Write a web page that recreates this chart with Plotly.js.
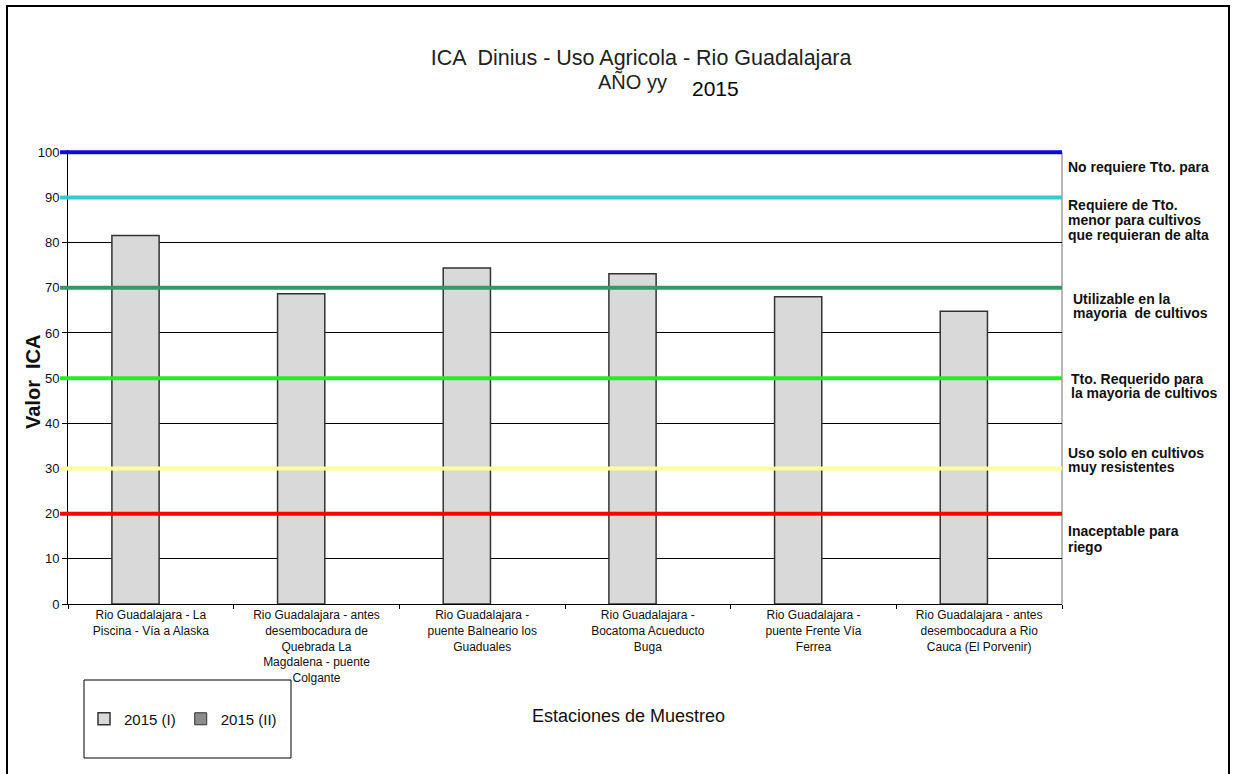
<!DOCTYPE html>
<html>
<head>
<meta charset="utf-8">
<script src="https://cdn.plot.ly/plotly-3.0.1.min.js"></script>
<style>
  html, body { margin: 0; padding: 0; background: #fff; }
  #chart { width: 1233px; height: 774px; }
  #frame { position: absolute; left: 6px; top: 5px; width: 1220px; height: 800px; border: 2px solid #000; pointer-events: none; }
</style>
</head>
<body>
<div id="chart"></div>
<div id="frame"></div>
<script>
// ---- data ----
const stations = [
  "Rio Guadalajara - La<br>Piscina - Vía a Alaska",
  "Rio Guadalajara - antes<br>desembocadura de<br>Quebrada La<br>Magdalena - puente<br>Colgante",
  "Rio Guadalajara -<br>puente Balneario los<br>Guaduales",
  "Rio Guadalajara -<br>Bocatoma Acueducto<br>Buga",
  "Rio Guadalajara -<br>puente Frente Vía<br>Ferrea",
  "Rio Guadalajara - antes<br>desembocadura a Rio<br>Cauca (El Porvenir)"
];
const icaI  = [81.6, 68.7, 74.4, 73.1, 68.0, 64.8];
const icaII = [null, null, null, null, null, null];
const seriesNames = ["2015 (I)", "2015 (II)"];

const thresholdValues = [100, 90, 70, 50, 30, 20];
const thresholdColors = ["#0a0ad6", "#33cccc", "#339966", "#22ee22", "#ffff99", "#ff0000"];

const bandLabels = [
  ["No requiere Tto. para"],
  ["Requiere de Tto.", "menor para cultivos", "que requieran de alta"],
  ["Utilizable en la", "mayoria  de cultivos"],
  ["Tto. Requerido para", "la mayoria de cultivos"],
  ["Uso solo en cultivos", "muy resistentes"],
  ["Inaceptable para", "riego"]
];

// ---- layout helpers (pixel positions of label lines) ----
const M = {l: 68, r: 171, t: 150, b: 170};
const PW = 1233 - M.l - M.r, PH = 774 - M.t - M.b;
const px2x = px => (px - M.l) / PW;
const py2y = py => (M.t + PH - py) / PH;

const bandLineY = [[167], [205, 220, 235], [299, 313], [379, 393], [453, 467], [531, 547]];
const bandLineX = [1066, 1066, 1071, 1069, 1066, 1066];

const FONT = "Arial, 'Liberation Sans', sans-serif";

const traces = [
  {
    type: "bar", name: seriesNames[0], x: stations, y: icaI,
    width: 0.285, offset: -0.235,
    marker: {color: "#d9d9d9", line: {color: "#333333", width: 1.5}},
    hoverinfo: "x+y"
  },
  {
    type: "bar", name: seriesNames[1], x: stations, y: icaII,
    width: 0.285, offset: 0.05,
    marker: {color: "#8c8c8c", line: {color: "#333333", width: 1}},
    showlegend: true
  }
];

const shapes = thresholdValues.map((v, i) => ({
  type: "line", xref: "paper", yref: "y", x0: -0.008, x1: 1, y0: v, y1: v,
  line: {color: thresholdColors[i], width: 4}, layer: "above"
}));
shapes.push({type: "line", xref: "paper", yref: "y", x0: 1, x1: 1, y0: 0, y1: 100,
  line: {color: "#a0a0a0", width: 1.5}, layer: "below"});
shapes.push({type: "rect", xref: "paper", yref: "paper",
  x0: px2x(84), x1: px2x(291), y0: py2y(680), y1: py2y(758),
  line: {color: "#000", width: 1}, fillcolor: "rgba(0,0,0,0)"});

const annotations = [];
bandLabels.forEach((lines, i) => {
  lines.forEach((t, j) => {
    annotations.push({
      xref: "paper", yref: "paper", x: px2x(bandLineX[i]), y: py2y(bandLineY[i][j]),
      xanchor: "left", yanchor: "middle", showarrow: false, text: "<b>" + t.replace(/  /g, " &nbsp;") + "</b>",
      font: {family: FONT, size: 14, color: "#111"}
    });
  });
});
annotations.push({
  xref: "paper", yref: "paper", x: px2x(596), y: py2y(82), xanchor: "left", yanchor: "middle",
  showarrow: false, text: "AÑO yy", font: {family: FONT, size: 20, color: "#222"}
});
annotations.push({
  xref: "paper", yref: "paper", x: px2x(690), y: py2y(89), xanchor: "left", yanchor: "middle",
  showarrow: false, text: "2015", font: {family: FONT, size: 21, color: "#000"}
});
annotations.push({
  xref: "paper", yref: "paper", x: px2x(628), y: py2y(716), xanchor: "center", yanchor: "middle",
  showarrow: false, text: "Estaciones de Muestreo", font: {family: FONT, size: 18, color: "#111"}
});
annotations.push({
  xref: "paper", yref: "paper", x: px2x(33), y: py2y(382), xanchor: "center", yanchor: "middle",
  textangle: -90, showarrow: false, text: "<b>Valor &nbsp;ICA</b>", font: {family: FONT, size: 20, color: "#111"}
});

const layout = {
  width: 1233, height: 774,
  margin: M,
  paper_bgcolor: "#fff", plot_bgcolor: "#fff",
  font: {family: FONT, color: "#111"},
  title: {
    text: "ICA &nbsp;Dinius - Uso Agricola - Rio Guadalajara",
    xref: "container", x: 0.52, xanchor: "center",
    yref: "container", y: 1 - 57 / 774, yanchor: "middle",
    font: {family: FONT, size: 21.5, color: "#222"}
  },
  barmode: "group",
  xaxis: {
    type: "category", showline: true, linecolor: "#000", linewidth: 1,
    ticks: "outside", tickson: "boundaries", ticklen: 4, tickcolor: "#000",
    showgrid: false, tickangle: 0, tickfont: {family: FONT, size: 12, color: "#111"},
    automargin: false
  },
  yaxis: {
    range: [0, 100.5], tickvals: [0, 10, 20, 30, 40, 50, 60, 70, 80, 90, 100],
    showline: true, linecolor: "#000", linewidth: 1,
    ticks: "outside", ticklen: 5, tickcolor: "#000",
    showgrid: true, gridcolor: "#000", gridwidth: 1, zeroline: false,
    tickfont: {family: FONT, size: 13, color: "#111"}, automargin: false
  },
  legend: {
    orientation: "h", xref: "paper", yref: "paper",
    x: px2x(84), y: py2y(719), xanchor: "left", yanchor: "middle",
    font: {family: FONT, size: 15, color: "#111"},
    bgcolor: "rgba(0,0,0,0)", borderwidth: 0, itemwidth: 30
  },
  shapes: shapes,
  annotations: annotations,
  showlegend: true
};

Plotly.newPlot("chart", traces, layout, {displayModeBar: false, staticPlot: true});
</script>
</body>
</html>
